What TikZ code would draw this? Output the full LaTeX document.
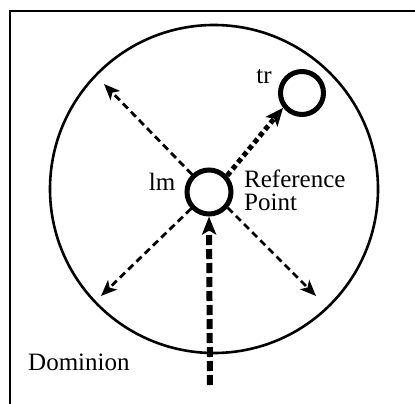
\documentclass[tikz,border=0pt]{standalone}
\usepackage{fontspec}
\setmainfont{Liberation Serif}
\usetikzlibrary{arrows.meta}
\begin{document}
\begin{tikzpicture}[x=1pt,y=-1pt,
  lbl/.style={font=\fontsize{25}{27}\selectfont, inner sep=0pt},
  ring/.style={circle, draw, line width=5pt, inner sep=0pt},
  ray/.style={line width=2.8pt, dash pattern=on 7pt off 4.5pt, -{Stealth[length=16pt,width=13pt,inset=4pt]}},
  trray/.style={line width=5pt, dash pattern=on 5pt off 3.5pt, -{Stealth[length=18pt,width=15pt,inset=4pt]}},
  upray/.style={line width=6pt, dash pattern=on 10pt off 4pt, -{Stealth[length=18pt,width=14pt,inset=4pt]}}]
\useasboundingbox (0,0) rectangle (415,404);
\fill[white] (0,0) rectangle (415,404);
\draw[line width=2.5pt] (10,404) -- (10,11) -- (415,11);
\node[circle, draw, line width=2.6pt, minimum size=328pt, inner sep=0pt] (dom) at (214,189) {};
\node[ring, minimum size=44pt] (lm) at (209,192) {};
\node[ring, minimum size=43pt] (tr) at (302,93) {};
\coordinate (ul) at (104,84);
\coordinate (ll) at (101,296);
\coordinate (lr) at (316,296);
\coordinate (bot) at (210,385);
\draw[ray] (lm.134) -- (ul);
\draw[ray] (lm.223) -- (ll);
\draw[ray] (lm.-40) -- (lr);
\draw[trray] (lm.42) -- (tr.218);
\draw[upray] (bot) -- (lm.south);
\node[lbl, anchor=base] (trl) at (264,83) {tr};
\node[lbl, anchor=base] (lml) at (162,190) {lm};
\node[lbl, anchor=base west] (ref) at (244,187) {Reference};
\node[lbl, anchor=base west] (pt) at (244,210) {Point};
\node[lbl, anchor=base west] (dl) at (28,370) {Dominion};
\end{tikzpicture}
\end{document}
